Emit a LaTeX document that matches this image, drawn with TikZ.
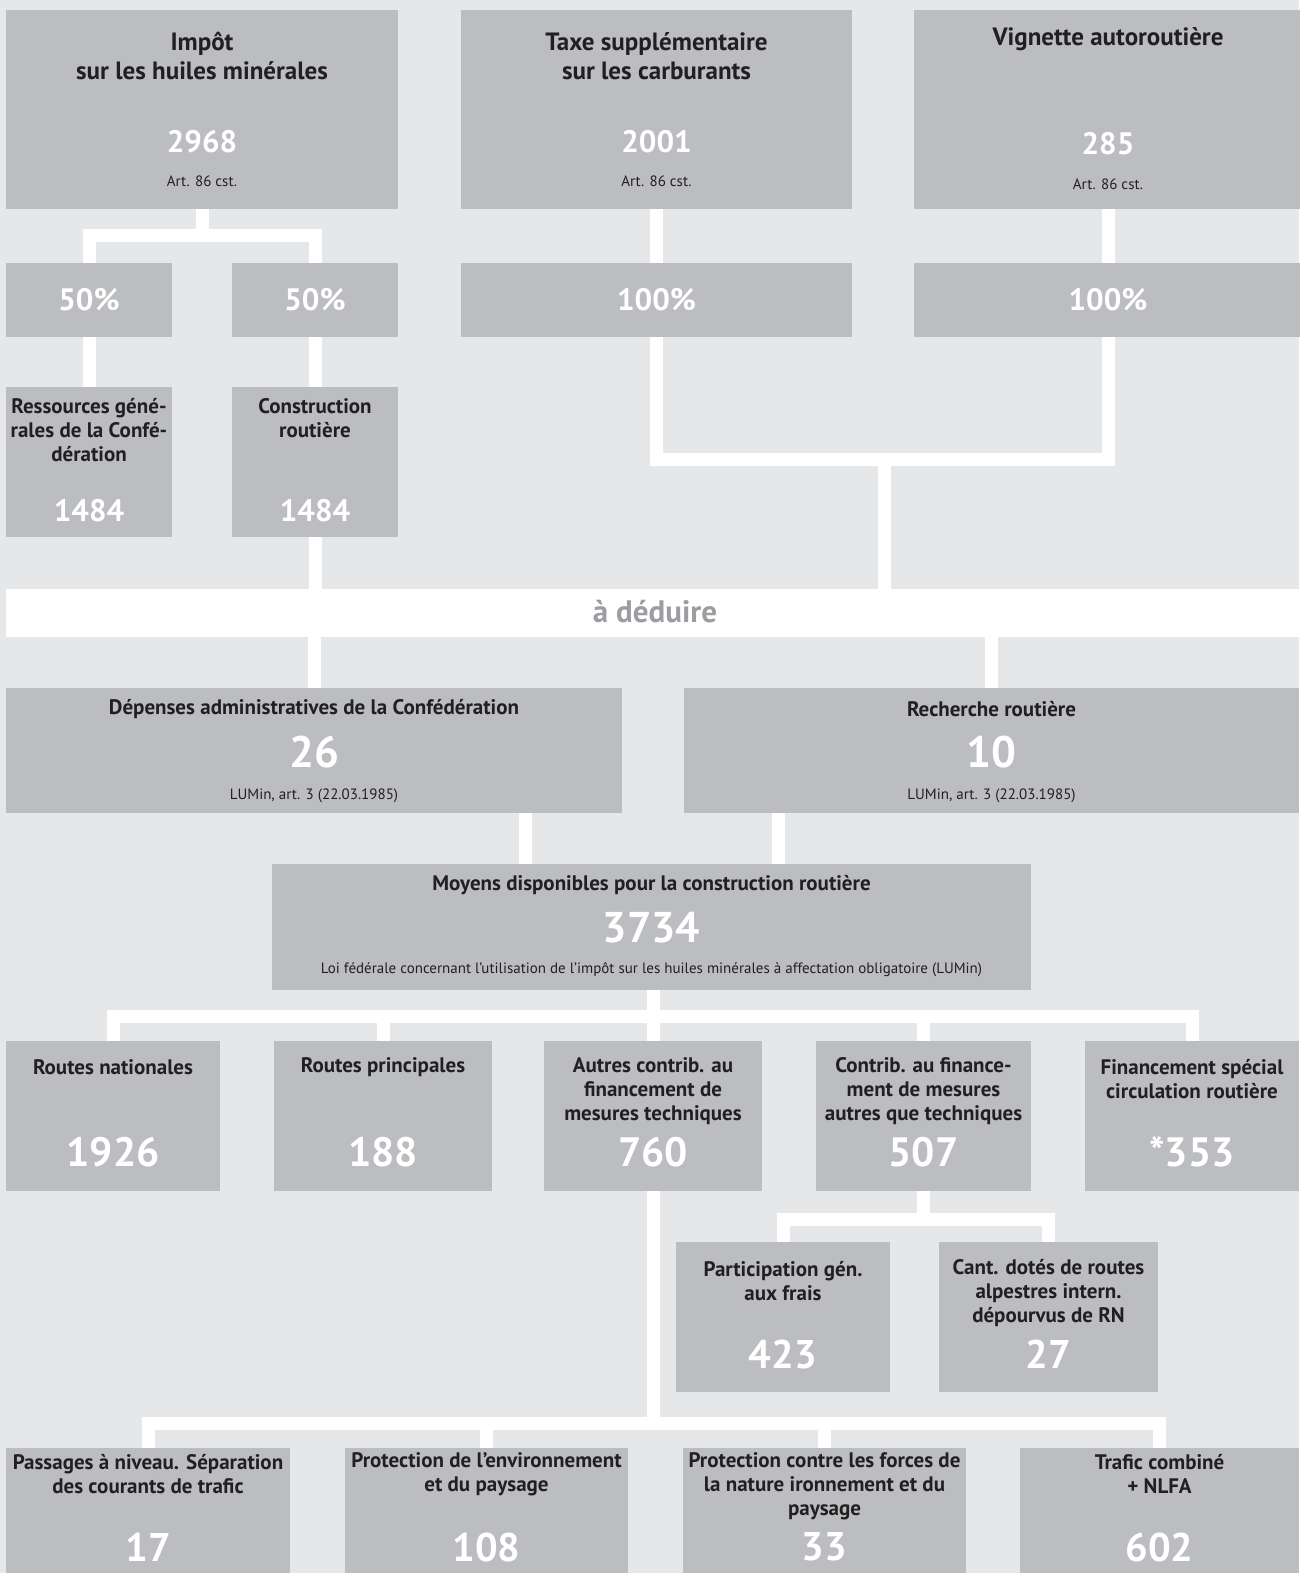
\documentclass[tikz,border=0pt]{standalone}
\usepackage{fontspec}
\setmainfont{PT Sans}
\usetikzlibrary{calc,positioning}
\definecolor{fond}{HTML}{E6E7E9}
\definecolor{boite}{HTML}{BCBDC0}
\definecolor{encre}{HTML}{231F20}
\definecolor{grisdeduire}{HTML}{9C9DA1}

\begin{document}
\begin{tikzpicture}
	[   x=1pt,y=-1pt,
		bnode/.style 2 args={fill=boite,inner sep=0pt,outer sep=0pt,minimum width=#1pt,minimum height=#2pt},
		titre/.style={text=encre,font=\fontsize{21}{24}\selectfont\bfseries,align=center,inner sep=0pt},
		grandtitre/.style={titre,font=\fontsize{25}{29}\selectfont\bfseries},
		chiffre/.style={text=white,font=\fontsize{#1}{#1}\selectfont\bfseries,inner sep=0pt},
		note/.style={text=encre,font=\fontsize{15}{17}\selectfont,inner sep=0pt},
	]
	\tikzset{wire/.style={draw=white,line width=13pt}}
	\fill[fond] (0,0) rectangle (1299,1573);
	\useasboundingbox (0,0) rectangle (1299,1573);
	
	% sources
	\foreach \nom/\x/\w/\titre/\ty/\val/\nx/\ay in {
		huiles/202/392/{Impôt\\sur les huiles minérales}/56/2968/142/181,
		taxe/656.5/391/{Taxe supplémentaire\\sur les carburants}/56/2001/142/181,
		vignette/1108/388/{Vignette autoroutière}/39/285/144/184}
	{
		\node[bnode={\w}{199}] (\nom) at (\x,109.5) {};
		\node[grandtitre] (\nom-t) at (\x,\ty) {\titre};
		\node[chiffre=31] (\nom-n) at (\x,\nx) {\val};
		\node[note] (\nom-a) at (\x,\ay) {Art. 86 cst.};
	}
	
	% parts
	\node[bnode={166}{74}] (p50a) at (89,300) {};
	\node[chiffre=31] at (p50a) {50\%};
	\node[bnode={166}{74}] (p50b) at (315,300) {};
	\node[chiffre=31] at (p50b) {50\%};
	\node[bnode={391}{74}] (p100a) at (656.5,300) {};
	\node[chiffre=31] at (p100a) {100\%};
	\node[bnode={388}{74}] (p100b) at (1108,300) {};
	\node[chiffre=31] at (p100b) {100\%};
	
	\node[bnode={166}{150}] (ressources) at (89,462) {};
	\node[titre] (ressources-t) at (89,430) {Ressources géné-\\rales de la Confé-\\dération};
	\node[chiffre=31] (ressources-n) at (89,511) {1484};
	\node[bnode={166}{150}] (construction) at (315,462) {};
	\node[titre] (construction-t) at (315,418) {Construction\\routière};
	\node[chiffre=31] (construction-n) at (315,511) {1484};
	
	\node[fill=white,inner sep=0pt,outer sep=0pt,minimum width=1293pt,minimum height=48pt] (deduire) at (652.5,613) {};
	\node[text=grisdeduire,font=\fontsize{31}{33}\selectfont\bfseries,inner sep=0pt] (deduire-t) at (655,612) {à déduire};
	
	% a deduire
	\foreach \nom/\x/\w/\titre/\val in {
		depenses/314/616/{Dépenses administratives de la Confédération}/26,
		recherche/991.5/615/{Recherche routière}/10}
	{
		\node[bnode={\w}{125}] (\nom) at (\x,750.5) {};
		\node[titre] (\nom-t) at (\x,709) {\titre};
		\node[chiffre=44] (\nom-n) at (\x,752) {\val};
		\node[note] (\nom-a) at (\x,796) {LUMin, art. 3 (22.03.1985)};
	}
	
	\node[bnode={759}{126}] (moyens) at (651.5,927) {};
	\node[titre] (moyens-t) at (651.5,885) {Moyens disponibles pour la construction routière};
	\node[chiffre=43] (moyens-n) at (651.5,928) {3734};
	\node[note] (moyens-a) at (651.5,970) {Loi fédérale concernant l'utilisation de l'impôt sur les huiles minérales à affectation obligatoire (LUMin)};
	
	% utilisation
	\foreach \nom/\x/\w/\titre/\ty/\val in {
		nationales/113/214/{Routes nationales}/1067/1926,
		principales/383/218/{Routes principales}/1067/188,
		autres/653/218/{Autres contrib. au\\financement de\\mesures techniques}/1091/760,
		contrib/923.5/215/{Contrib. au finance-\\ment de mesures\\autres que techniques}/1091/507,
		financement/1192/214/{Financement spécial\\circulation routière}/1079/*353}
	{
		\node[bnode={\w}{150}] (\nom) at (\x,1116) {};
		\node[titre] (\nom-t) at (\x,\ty) {\titre};
		\node[chiffre=41] (\nom-n) at (\x,1152) {\val};
	}
	
	\foreach \nom/\x/\w/\titre/\ty/\val in {
		participation/783/214/{Participation gén.\\aux frais}/1281/423,
		cantons/1048.5/219/{Cant. dotés de routes\\alpestres intern.\\dépourvus de RN}/1293/27}
	{
		\node[bnode={\w}{150}] (\nom) at (\x,1317) {};
		\node[titre] (\nom-t) at (\x,\ty) {\titre};
		\node[chiffre=40] (\nom-n) at (\x,1354) {\val};
	}
	
	\foreach \nom/\x/\w/\titre/\ty/\val in {
		passages/148/284/{Passages à niveau. Séparation\\des courants de trafic}/1474/17,
		environnement/486.5/283/{Protection de l’environnement\\et du paysage}/1474/108,
		forces/824.5/283/{Protection contre les forces de\\la nature ironnement et du\\paysage}/1486/33,
		trafic/1159.5/279/{Trafic combiné\\+ NLFA}/1474/602}
	{
		\node[bnode={\w}{125}] (\nom) at (\x,1510.5) {};
		\node[titre] (\nom-t) at (\x,\ty) {\titre};
		\node[chiffre=40] (\nom-n) at (\x,1547) {\val};
	}
	
	% liaisons
	\coordinate (j1) at (202,235);
	\draw[wire] (huiles.south) -- (j1);
	\draw[wire] (p50a.north) |- (j1) -| (p50b.north);
	\draw[wire] (taxe.south) -- (p100a.north);
	\draw[wire] (vignette.south) -- (p100b.north);
	\draw[wire] (p50a.south) -- (ressources.north);
	\draw[wire] (p50b.south) -- (construction.north);
	
	\coordinate (j2) at (884,459);
	\draw[wire] (p100a.south) |- (j2) -| (p100b.south);
	\draw[wire] (j2) -- (j2 |- deduire.north);
	\draw[wire] (construction.south) -- (construction.south |- deduire.north);
	\draw[wire] (deduire.south -| depenses.north) -- (depenses.north);
	\draw[wire] (deduire.south -| recherche.north) -- (recherche.north);
	
	\coordinate (m1) at ($(moyens.north)+(-126.5,0)$);
	\coordinate (m2) at ($(moyens.north)+(126.5,0)$);
	\draw[wire] (m1) -- (m1 |- depenses.south);
	\draw[wire] (m2) -- (m2 |- recherche.south);
	
	\coordinate (j5) at (653,1016);
	\draw[wire] (moyens.south -| j5) -- (j5);
	\draw[wire] (nationales.north) |- (j5) -| (financement.north);
	\foreach \b in {principales,autres,contrib}
	\draw[wire] (\b.north) -- (\b.north |- j5);
	
	\coordinate (j6) at (contrib.south |- 0,1219);
	\draw[wire] (contrib.south) -- (j6);
	\draw[wire] (participation.north) |- (j6) -| (cantons.north);
	
	\coordinate (j7) at (autres.south |- 0,1423);
	\draw[wire] (autres.south) -- (j7);
	\draw[wire] (passages.north) |- (j7) -| (trafic.north);
	\foreach \b in {environnement,forces}
	\draw[wire] (\b.north) -- (\b.north |- j7);
\end{tikzpicture}
\end{document}
